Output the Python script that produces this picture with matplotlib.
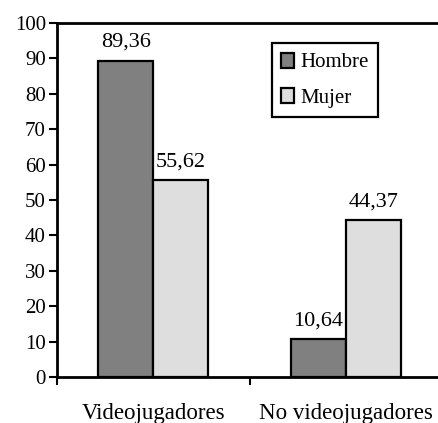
import matplotlib.pyplot as plt
import numpy as np

# ===== DATA =====
categories = ["Videojugadores", "No videojugadores"]
hombre = [89.36, 10.64]
mujer = [55.62, 44.37]
series_names = ["Hombre", "Mujer"]
value_labels_h = ["89,36", "10,64"]
value_labels_m = ["55,62", "44,37"]

plt.rcParams["font.family"] = ["Liberation Serif", "DejaVu Serif"]

fig = plt.figure(figsize=(4.38, 4.23), dpi=100)
ax = fig.add_axes([57 / 438, 1 - 377 / 423, 1 - 57 / 438 + 0.01, (377 - 23) / 423])

x = np.arange(len(categories))
w = 0.286
ax.bar(x - w / 2, hombre, w, color="#808080", edgecolor="black", linewidth=1.6,
       label=series_names[0])
ax.bar(x + w / 2, mujer, w, color="#dedede", edgecolor="black", linewidth=1.6,
       label=series_names[1])

for xi, v, t in zip(x - w / 2, hombre, value_labels_h):
    ax.text(xi, v + 2.5, t, ha="center", va="bottom", fontsize=16)
for xi, v, t in zip(x + w / 2, mujer, value_labels_m):
    ax.text(xi, v + 2.5, t, ha="center", va="bottom", fontsize=16)

ax.set_xlim(-0.5, 1.5)
ax.set_ylim(0, 100)
ax.set_yticks(range(0, 101, 10))
ax.tick_params(axis="y", direction="out", length=6, width=1.5, labelsize=15, pad=2)

ax.set_xticks(x)
ax.set_xticklabels(categories)
ax.set_xticks([-0.5, 0.5], minor=True)
ax.tick_params(axis="x", which="major", length=0, labelsize=16.5, pad=19)
ax.tick_params(axis="x", which="minor", direction="out", length=6, width=1.5)

for s in ["left", "bottom", "top"]:
    ax.spines[s].set_linewidth(2)
ax.spines["right"].set_visible(False)

leg = ax.legend(loc="upper left", bbox_to_anchor=(0.558, 0.943), fontsize=15,
                fancybox=False, framealpha=1, edgecolor="black",
                handlelength=0.6, handleheight=0.75, handletextpad=0.3,
                borderpad=0.45, labelspacing=0.75, borderaxespad=0)
leg.get_frame().set_linewidth(1.6)

fig.savefig("out.png", dpi=100)
